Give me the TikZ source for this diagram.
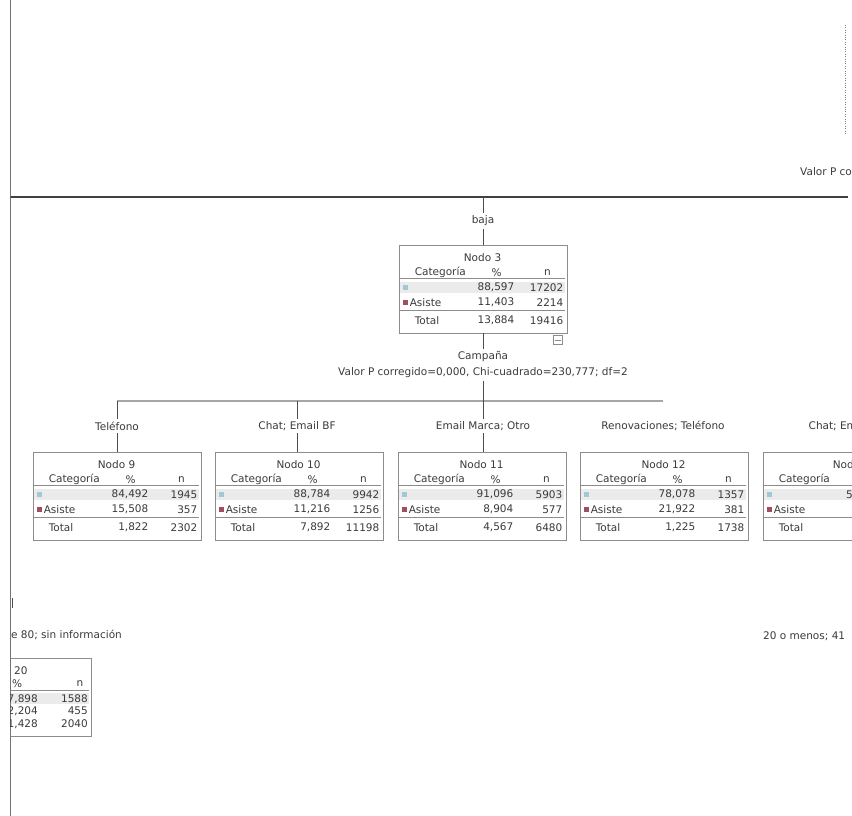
\documentclass[tikz,border=0pt]{standalone}
\usepackage{fontspec}
\setmainfont{DejaVu Sans}
\usetikzlibrary{positioning,calc}

\definecolor{txtgray}{HTML}{3A3A3A}
\definecolor{boxgray}{HTML}{8C8C8C}
\definecolor{bandgray}{HTML}{EBEBEB}
\definecolor{catblue}{HTML}{9FC9D6}
\definecolor{catred}{HTML}{A34D63}

% table inside a tree node: box name, title, row1 % n, row2 % n, total % n
\newcommand{\nodotable}[8]{%
  \begin{scope}[shift={(#1.north west)}]
    \fill[bandgray] (1.5,37) rectangle (166.5,48.5);
    \draw[rule] (1.5,34) -- (166.5,34);
    \draw[rule] (1.5,65.5) -- (166.5,65.5);
    \fill[catblue] (4,40) rectangle (9.5,45.5);
    \fill[catred] (4,55) rectangle (9.5,60.5);
    \node[txt] (#1-tit) at (84,13) {#2};
    \node[txt, anchor=west] (#1-cat) at (16,28) {Categoría};
    \node[txt] (#1-pc) at (98,28) {\%};
    \node[txt] (#1-nh) at (149,28) {n};
    \node[txt, anchor=east] (#1-p1) at (116,43) {#3};
    \node[txt, anchor=east] (#1-n1) at (165,43) {#4};
    \node[txt, anchor=west] (#1-as) at (11,58) {Asiste};
    \node[txt, anchor=east] (#1-p2) at (116,58) {#5};
    \node[txt, anchor=east] (#1-n2) at (165,58) {#6};
    \node[txt, anchor=west] (#1-tot) at (16,76) {Total};
    \node[txt, anchor=east] (#1-pt) at (116,76) {#7};
    \node[txt, anchor=east] (#1-nt) at (165,76) {#8};
  \end{scope}}

\begin{document}
\begin{tikzpicture}[x=1pt, y=-1pt,
    txt/.style={font=\fontsize{10.5}{12}\selectfont, text=txtgray, inner sep=0pt},
    lab/.style={txt, inner sep=2.5pt},
    nodebox/.style={draw=boxgray, line width=0.9pt, minimum width=168pt, minimum height=88pt, inner sep=0pt},
    rule/.style={draw=boxgray, line width=0.7pt},
    link/.style={draw=black!70, line width=0.9pt},
    bar/.style={draw=black!35, line width=2.2pt},
    frame/.style={draw=black!55, line width=1pt}
]
\useasboundingbox (0,0) rectangle (852,816);

\coordinate (fT) at (10,0);
\coordinate (fB) at (10,816);
\draw[frame] (fT) -- (fB);

\begin{scope}
\clip (10.5,0) rectangle (852,816);

\coordinate (hL) at (10,197);
\coordinate (hR) at (848,197);
\draw[draw=black!75, line width=1.6pt] (hL) -- (hR);
\coordinate (dT) at (845,25);
\coordinate (dB) at (845,135);
\draw[black!50, dotted] (dT) -- (dB);
\node[txt, anchor=west] (valp) at (800,172) {Valor P cor};

% node 3
\coordinate (top) at (483,197);
\node[lab] (baja) at (483,221) {baja};
\node[nodebox] (n3) at (483,289) {};
\nodotable{n3}{Nodo 3}{88,597}{17202}{11,403}{2214}{13,884}{19416}
\node[draw=boxgray, line width=0.7pt, minimum size=9pt, inner sep=0pt] (n3tog) at (558,340) {};
\draw[rule, shorten <=2pt, shorten >=2pt] (n3tog.west) -- (n3tog.east);
\draw[link] (top) -- (baja);
\draw[link] (baja) -- (n3);

\node[lab] (camp) at (483,357) {Campaña};
\node[lab] (chi) at (483,373) {Valor P corregido=0,000, Chi-cuadrado=230,777; df=2};
\coordinate (split) at (483,401);
\coordinate (barL) at (117,401);
\coordinate (barR) at (663,401);
\draw[bar] (barL) -- (barR);
\draw[link] (n3) -- (camp);
\draw[link] (chi) -- (split);

% children
\node[lab] (tel) at (117,426) {Teléfono};
\node[lab] (chat) at (297,426) {Chat; Email BF};
\node[lab] (emm) at (483,426) {Email Marca; Otro};
\node[lab] (renov) at (663,426) {Renovaciones; Teléfono};
\node[lab, anchor=west] (chat2) at (806,426) {Chat; Em};

\node[nodebox] (n9) at (117,496) {};
\node[nodebox] (n10) at (299,496) {};
\node[nodebox] (n11) at (482,496) {};
\node[nodebox] (n12) at (664,496) {};
\node[nodebox] (n13) at (847,496) {};
\nodotable{n9}{Nodo 9}{84,492}{1945}{15,508}{357}{1,822}{2302}
\nodotable{n10}{Nodo 10}{88,784}{9942}{11,216}{1256}{7,892}{11198}
\nodotable{n11}{Nodo 11}{91,096}{5903}{8,904}{577}{4,567}{6480}
\nodotable{n12}{Nodo 12}{78,078}{1357}{21,922}{381}{1,225}{1738}
\nodotable{n13}{Nodo}{}{}{}{}{}{}
\node[txt, anchor=west] (n13-p1) at (846,495) {5};

\foreach \l/\b in {tel/n9, chat/n10, emm/n11} {
  \draw[link] (\l |- split) -- (\l);
  \draw[link] (\l) -- (\l |- \b.north);
}

% lower level, cut at the edges
\coordinate (tk1) at (12,598);
\coordinate (tk2) at (12,608);
\draw[link] (tk1) -- (tk2);
\node[txt, anchor=west] (sininf) at (11,635) {e 80; sin información};
\node[txt, anchor=west] (menos) at (763,636) {20 o menos; 41};

\node[nodebox, minimum height=78pt] (n20) at (7,697) {};
\fill[bandgray] (11,693) rectangle (89,704);
\draw[rule] (11,690) -- (89,690);
\node[txt, anchor=west] (n20-tit) at (14,671) {20};
\node[txt] (n20-pc) at (17,684) {\%};
\node[txt] (n20-nh) at (80,684) {n};
\node[txt, anchor=east] (n20-p1) at (38,699) {7,898};
\node[txt, anchor=east] (n20-n1) at (88,699) {1588};
\node[txt, anchor=east] (n20-p2) at (38,711) {2,204};
\node[txt, anchor=east] (n20-n2) at (88,711) {455};
\node[txt, anchor=east] (n20-pt) at (38,724) {1,428};
\node[txt, anchor=east] (n20-nt) at (88,724) {2040};
\end{scope}
\end{tikzpicture}
\end{document}
